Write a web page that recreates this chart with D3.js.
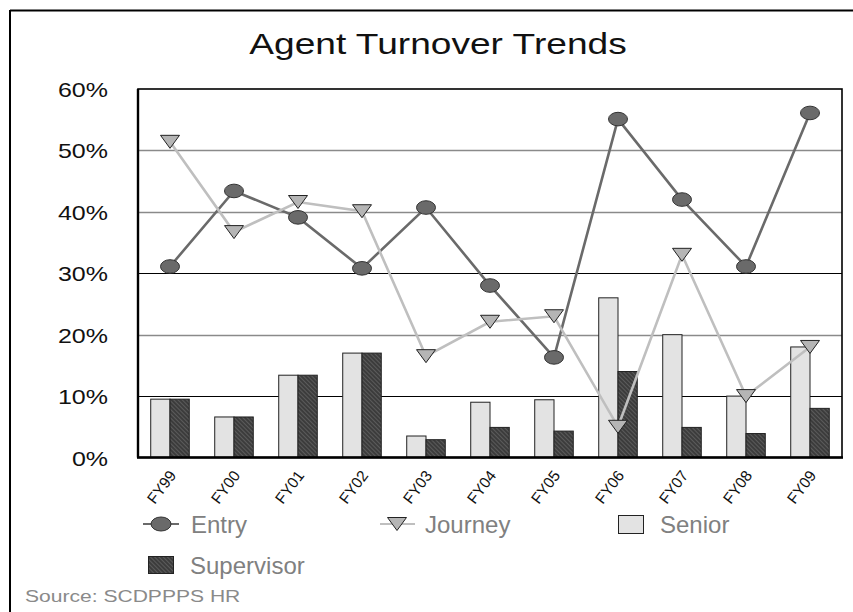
<!DOCTYPE html>
<html>
<head>
<meta charset="utf-8">
<script src="https://cdn.jsdelivr.net/npm/d3@7"></script>
<style>
  html, body { margin: 0; padding: 0; background: #fff; }
  svg { display: block; font-family: "Liberation Sans", Arial, sans-serif; }
</style>
</head>
<body>
<svg id="chart" width="853" height="612"></svg>
<script>
const categories = ["FY99","FY00","FY01","FY02","FY03","FY04","FY05","FY06","FY07","FY08","FY09"];
const entry      = [31.1, 43.4, 39.1, 30.8, 40.7, 28.0, 16.3, 55.1, 42.0, 31.1, 56.1];
const journey    = [51.4, 36.7, 41.6, 40.1, 16.5, 22.1, 23.0, 5.0, 33.0, 10.0, 18.0];
const senior     = [9.5, 6.6, 13.4, 17.0, 3.5, 9.0, 9.4, 26.0, 20.0, 10.0, 18.0];
const supervisor = [9.5, 6.6, 13.4, 17.0, 2.9, 4.9, 4.3, 14.0, 4.9, 3.9, 8.0];
const yTicks     = [0, 10, 20, 30, 40, 50, 60];
const barSeries  = ["Senior", "Supervisor"];
const titleText  = "Agent Turnover Trends";
const sourceText = "Source: SCDPPPS HR";

const svg = d3.select("#chart");
const W = 853, H = 612;
const plot = { left: 138, right: 842, top: 89, bottom: 457.5 };

svg.append("rect").attr("width", W).attr("height", H).attr("fill", "#fff");

// pattern for supervisor bars
const defs = svg.append("defs");
const pat = defs.append("pattern").attr("id", "hatch").attr("patternUnits", "userSpaceOnUse")
  .attr("width", 3).attr("height", 3).attr("patternTransform", "rotate(-45)");
pat.append("rect").attr("width", 3).attr("height", 3).attr("fill", "#3c3c3c");
pat.append("line").attr("x1", 0).attr("y1", 0).attr("x2", 0).attr("y2", 3)
  .attr("stroke", "#7a7a7a").attr("stroke-width", 1);

// outer frame (top and left)
svg.append("line").attr("x1", 10).attr("y1", 10.5).attr("x2", W).attr("y2", 10.5).attr("stroke", "#000").attr("stroke-width", 2);
svg.append("line").attr("x1", 10).attr("y1", 10).attr("x2", 10).attr("y2", H).attr("stroke", "#000").attr("stroke-width", 2);

// title
svg.append("text").attr("transform", "translate(438,54) scale(1.28,1)")
  .attr("text-anchor", "middle").attr("font-size", 29).attr("fill", "#111").text(titleText);

const x = d3.scaleBand().domain(categories).range([plot.left, plot.right]).padding(0);
const xb = d3.scaleBand().domain(barSeries).range([0, x.bandwidth()]).paddingInner(0).paddingOuter(0.66);
const y = d3.scaleLinear().domain([0, 60]).range([plot.bottom, plot.top]);

// gridlines
const gridColor = { 10: "#000", 20: "#8a8a8a", 30: "#000", 40: "#8a8a8a", 50: "#8a8a8a" };
svg.append("g").selectAll("line").data(yTicks.filter(t => t > 0 && t < 60)).join("line")
  .attr("x1", plot.left).attr("x2", plot.right)
  .attr("y1", d => Math.round(y(d)) + 0.5).attr("y2", d => Math.round(y(d)) + 0.5)
  .attr("stroke", d => gridColor[d]).attr("stroke-width", d => gridColor[d] === "#000" ? 1 : 1.6);

// y axis labels
const yAxis = d3.axisLeft(y).tickValues(yTicks).tickFormat(d => d + "%").tickSize(0).tickPadding(0);
const gy = svg.append("g").attr("transform", `translate(108,0)`).call(yAxis);
gy.select(".domain").remove();
gy.selectAll(".tick text").attr("font-size", 21).attr("fill", "#111")
  .attr("font-family", "Liberation Sans, Arial, sans-serif")
  .attr("dy", "0.36em").attr("x", 0)
  .attr("transform", "scale(1.19,1)");

// bars
const groups = svg.append("g").selectAll("g").data(categories).join("g")
  .attr("transform", d => `translate(${x(d)},0)`);
groups.append("rect")
  .attr("x", () => xb("Senior"))
  .attr("width", xb.bandwidth())
  .attr("y", (d, i) => y(senior[i]))
  .attr("height", (d, i) => y(0) - y(senior[i]))
  .attr("fill", "#e3e3e3").attr("stroke", "#222").attr("stroke-width", 1);
groups.append("rect")
  .attr("x", () => xb("Supervisor"))
  .attr("width", xb.bandwidth())
  .attr("y", (d, i) => y(supervisor[i]))
  .attr("height", (d, i) => y(0) - y(supervisor[i]))
  .attr("fill", "url(#hatch)").attr("stroke", "#222").attr("stroke-width", 1);

const cx = d => x(d) + x.bandwidth() / 2;

const line = d3.line().x(d => cx(d.c)).y(d => y(d.v));
const entryData = categories.map((c, i) => ({ c, v: entry[i] }));
const journeyData = categories.map((c, i) => ({ c, v: journey[i] }));

svg.append("path").datum(entryData).attr("d", line).attr("fill", "none")
  .attr("stroke", "#6a6a6a").attr("stroke-width", 2.6);
svg.append("g").selectAll("ellipse").data(entryData).join("ellipse")
  .attr("cx", d => cx(d.c)).attr("cy", d => y(d.v)).attr("rx", 9.5).attr("ry", 6.8)
  .attr("fill", "#6a6a6a").attr("stroke", "#333").attr("stroke-width", 1);

svg.append("path").datum(journeyData).attr("d", line).attr("fill", "none")
  .attr("stroke", "#bfbfbf").attr("stroke-width", 2.6);
const tri = (px, py) => `M${px - 9.5},${py - 6.5}L${px + 9.5},${py - 6.5}L${px},${py + 6.5}Z`;
svg.append("g").selectAll("path").data(journeyData).join("path")
  .attr("d", d => tri(cx(d.c), y(d.v)))
  .attr("fill", "#b5b5b5").attr("stroke", "#222").attr("stroke-width", 1);

// plot border
svg.append("rect").attr("x", plot.left).attr("y", plot.top)
  .attr("width", plot.right - plot.left).attr("height", plot.bottom - plot.top)
  .attr("fill", "none").attr("stroke", "#000").attr("stroke-width", 1.6);
svg.append("line").attr("x1", plot.left - 1).attr("x2", plot.right + 1)
  .attr("y1", plot.bottom).attr("y2", plot.bottom).attr("stroke", "#000").attr("stroke-width", 2.4);
svg.append("line").attr("x1", plot.left).attr("x2", plot.left)
  .attr("y1", plot.top).attr("y2", plot.bottom).attr("stroke", "#000").attr("stroke-width", 2.4);

// x axis labels
const xAxis = d3.axisBottom(x).tickSize(0).tickPadding(0);
const gx = svg.append("g").attr("transform", `translate(0,${plot.bottom})`).call(xAxis);
gx.select(".domain").remove();
gx.selectAll(".tick text")
  .attr("font-size", 15.5).attr("fill", "#111").attr("font-family", "Liberation Sans, Arial, sans-serif")
  .attr("text-anchor", "end").attr("y", 0).attr("dy", 0)
  .attr("transform", "translate(7,18) rotate(-53)");

// legend
const lg = svg.append("g").attr("font-size", 24).attr("fill", "#808080");
lg.append("line").attr("x1", 143).attr("x2", 179).attr("y1", 524).attr("y2", 524).attr("stroke", "#6a6a6a").attr("stroke-width", 2);
lg.append("ellipse").attr("cx", 161).attr("cy", 524).attr("rx", 10).attr("ry", 7).attr("fill", "#6a6a6a").attr("stroke", "#333");
lg.append("text").attr("x", 191).attr("y", 533).text("Entry");
lg.append("line").attr("x1", 380).attr("x2", 415).attr("y1", 524).attr("y2", 524).attr("stroke", "#bfbfbf").attr("stroke-width", 2);
lg.append("path").attr("d", tri(397, 524)).attr("fill", "#b5b5b5").attr("stroke", "#222");
lg.append("text").attr("x", 425).attr("y", 533).text("Journey");
lg.append("rect").attr("x", 618.5).attr("y", 515.5).attr("width", 25).attr("height", 18).attr("fill", "#e3e3e3").attr("stroke", "#222");
lg.append("text").attr("x", 660).attr("y", 533).text("Senior");
lg.append("rect").attr("x", 148.5).attr("y", 556.5).attr("width", 25).attr("height", 17).attr("fill", "url(#hatch)").attr("stroke", "#222");
lg.append("text").attr("x", 190).attr("y", 574).text("Supervisor");

// source
svg.append("text").attr("transform", "translate(25,602) scale(1.24,1)").attr("font-size", 17).attr("fill", "#8a8a8a").text(sourceText);
</script>
</body>
</html>
